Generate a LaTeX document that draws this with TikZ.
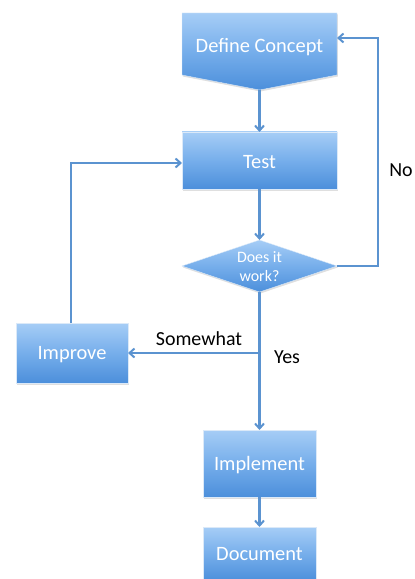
\documentclass[tikz,border=0pt]{standalone}
\usepackage{fontspec}
\setmainfont{Carlito}
\usetikzlibrary{arrows.meta,shadows}
\definecolor{ltop}{HTML}{A6CDF6}
\definecolor{lbot}{HTML}{4C8FDB}
\definecolor{lmid}{HTML}{76AEEB}
\definecolor{conn}{HTML}{5B93D0}
\tikzset{
  fbox/.style={top color=ltop, bottom color=lbot, middle color=lmid, draw=white!80!lbot, line width=0.4bp,
     drop shadow={opacity=0.25, shadow xshift=0.8bp, shadow yshift=-1.5bp}},
  btxt/.style={text=white, font=\fontsize{20.5}{24}\selectfont},
  lbl/.style={text=black, font=\fontsize{20}{24}\selectfont},
  conn/.style={draw=conn, line width=2.2bp, -{Straight Barb[length=5bp,width=9bp,line width=2bp]}},
  connp/.style={draw=conn, line width=2.2bp}
}
\begin{document}
\begin{tikzpicture}[x=1bp,y=-1bp]
\useasboundingbox (0,0) rectangle (414,579);
% Define Concept (pentagon)
\path[fbox] (182,13) -- (337,13) -- (337,75) -- (259.5,90) -- (182,75) -- cycle;
\coordinate (deftip) at (259.5,90);
\coordinate (defright) at (337,38);
\node[btxt] (def) at (259.5,47) {Define Concept};
% Test
\path[fbox] (182,132) rectangle (337,189);
\node[btxt] (test) at (259.5,162) {Test};
\coordinate (testtop) at (259.5,132);
\coordinate (testbot) at (259.5,189);
\coordinate (testleft) at (182,163);
% Diamond
\path[fbox] (182,266) -- (259.5,240) -- (337,266) -- (259.5,292) -- cycle;
\node[text=white, font=\fontsize{16}{19}\selectfont, align=center] (dia) at (259.5,267) {Does it\\work?};
\coordinate (diatop) at (259.5,240);
\coordinate (diaright) at (337,266);
\coordinate (diabot) at (259.5,292);
% Improve
\path[fbox] (16,323) rectangle (128,383);
\node[btxt] (imp) at (72,355) {Improve};
\coordinate (impright) at (128,353);
\coordinate (imptop) at (71,323);
% Implement
\path[fbox] (203,430) rectangle (316,497);
\node[btxt] (impl) at (259.5,465) {Implement};
\coordinate (impltop) at (259.5,430);
\coordinate (implbot) at (259.5,497);
% Document
\path[fbox] (203,527) rectangle (316,581);
\node[btxt] (doc) at (259.5,554) {Document};
\coordinate (doctop) at (259.5,527);
% connectors
\coordinate (noc) at (378,266);
\coordinate (not) at (378,38);
\coordinate (branch) at (259.5,353);
\coordinate (impc) at (71,163);
\draw[conn] (deftip) -- (testtop);
\draw[conn] (testbot) -- (diatop);
\draw[conn] (diaright) -- (noc) -- (not) -- (defright);
\draw[conn] (diabot) -- (impltop);
\draw[conn] (branch) -- (impright);
\draw[conn] (imptop) -- (impc) -- (testleft);
\draw[conn] (implbot) -- (doctop);
% labels
\node[lbl] (no) at (401,170) {No};
\node[lbl] (sw) at (199,339) {Somewhat};
\node[lbl] (yes) at (287,357) {Yes};
\end{tikzpicture}
\end{document}
